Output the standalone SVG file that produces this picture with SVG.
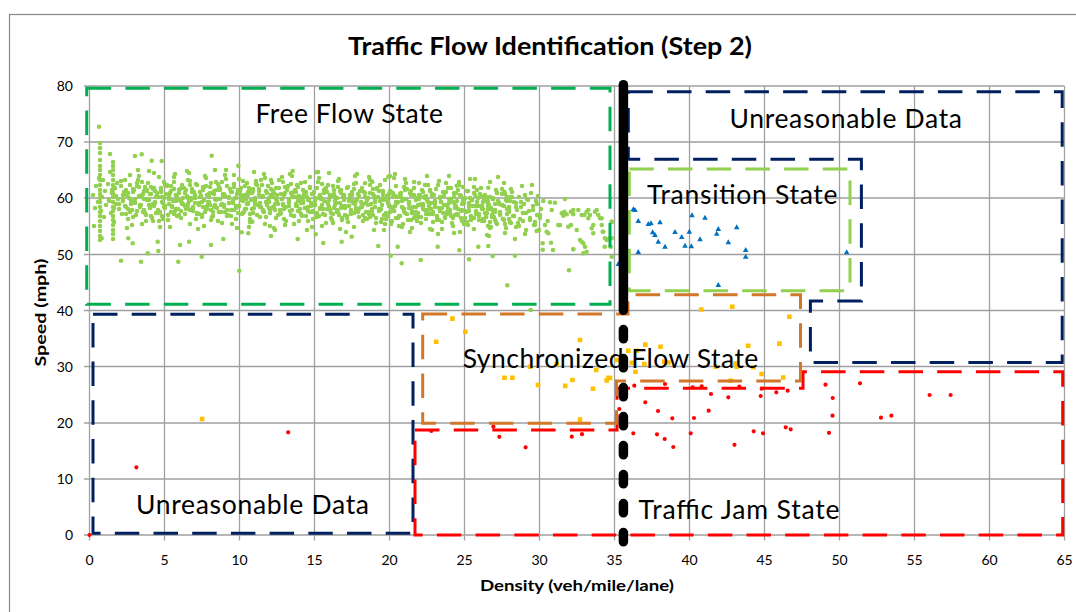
<svg xmlns="http://www.w3.org/2000/svg" xmlns:xlink="http://www.w3.org/1999/xlink" width="1076" height="612" viewBox="0 0 1076 612">
<style>
.grid{stroke:#a0a0a0;stroke-width:1.3;fill:none}
.tk{font-family:"Lato","Liberation Sans",Arial,sans-serif;font-size:14px;fill:#000}
.lbl{font-family:"Lato","Liberation Sans",Arial,sans-serif;font-size:26.5px;fill:#000}
.ax{font-family:"Lato","Liberation Sans",Arial,sans-serif;font-weight:bold;fill:#000}
.box{fill:none;stroke-width:3;stroke-dasharray:24.5 14.2}
.g{stroke:#92d050;stroke-width:4.6;stroke-linecap:round;fill:none}
.r{stroke:#ff0000;stroke-width:4.2;stroke-linecap:round;fill:none}
.y{fill:#ffc000}
.b{fill:#0070c0}
</style>
<defs>
<path id="tA" d="M1-5h0M3 8h0M4-14h0M6 2h0M7-22h0M9 11h0M10-3h0M12 17h0M13-9h0M14 5h0M16-16h0M17 0h0M19 13h0M20-7h0M22 22h0M23-12h0M24 4h0M26-1h0M27 9h0M29-19h0M30 14h0M31-5h0M33 6h0M34-10h0M36 19h0M37-2h0M38-25h0M40 10h0M41-8h0M43 3h0M44 15h0M45-14h0M47-4h0M48 7h0M50-18h0M51 12h0M52-1h0M54 21h0M55-10h0M57 5h0M58-6h0M59 16h0M2 26h0M18-28h0M35 28h0M46-30h0M25-17h0M11-20h0M39 1h0M53-13h0"/>
<path id="tB" d="M0 4h0M2-11h0M3 15h0M5-3h0M6 9h0M8-18h0M9 1h0M11 12h0M12-7h0M14 20h0M15-14h0M17 6h0M18-2h0M20 16h0M21-9h0M23-23h0M24 10h0M25-4h0M27 3h0M28-12h0M30 18h0M31-6h0M32 8h0M34-17h0M35 0h0M37 13h0M38-9h0M40 24h0M41-3h0M42 6h0M44-20h0M45 11h0M47-1h0M48-10h0M49 17h0M51 4h0M52-15h0M54 9h0M55-5h0M56 14h0M58-8h0M59 1h0M7-26h0M22 27h0M33-29h0M43-24h0M50 25h0M13-1h0M29 21h0M57-20h0"/>
<path id="tC" d="M2 3h0M5-8h0M7 10h0M9-2h0M12 6h0M14-12h0M16 1h0M19 9h0M21-5h0M23 14h0M26-9h0M28 4h0M30-15h0M33 7h0M35-3h0M37 12h0M40-7h0M42 2h0M44-11h0M47 8h0M49-1h0M51 15h0M54-6h0M56 5h0M58-13h0"/>
</defs>
<rect x="0" y="0" width="1076" height="612" fill="#fff"/>
<rect x="9.5" y="14.5" width="1200" height="700" fill="none" stroke="#888" stroke-width="1.2"/>
<text class="ax" x="550" y="55" font-size="25" text-anchor="middle" textLength="404" lengthAdjust="spacingAndGlyphs">Traffic Flow Identification (Step 2)</text>
<g id="grid" class="grid">
<path d="M89.5 86V540.5M164.5 86V540.5M239.5 86V540.5M314.5 86V540.5M389.5 86V540.5M464.5 86V540.5M539.5 86V540.5M614.5 86V540.5M689.5 86V540.5M764.5 86V540.5M839.5 86V540.5M914.5 86V540.5M989.5 86V540.5M1064.5 86V540.5"/>
<path d="M84 86H1064.5M84 142H1064.5M84 198H1064.5M84 254.5H1064.5M84 310.5H1064.5M84 366.5H1064.5M84 423H1064.5M84 479H1064.5M84 535H1064.5"/>
</g>
<g id="ytick" class="tk" text-anchor="end">
<text x="73" y="91">80</text><text x="73" y="147">70</text><text x="73" y="203">60</text><text x="73" y="259.5">50</text><text x="73" y="315.5">40</text><text x="73" y="371.5">30</text><text x="73" y="428">20</text><text x="73" y="484">10</text><text x="73" y="540">0</text>
</g>
<g id="xtick" class="tk" text-anchor="middle">
<text x="89.5" y="565">0</text><text x="164.5" y="565">5</text><text x="239.5" y="565">10</text><text x="314.5" y="565">15</text><text x="389.5" y="565">20</text><text x="464.5" y="565">25</text><text x="539.5" y="565">30</text><text x="614.5" y="565">35</text><text x="689.5" y="565">40</text><text x="764.5" y="565">45</text><text x="839.5" y="565">50</text><text x="914.5" y="565">55</text><text x="989.5" y="565">60</text><text x="1064.5" y="565">65</text>
</g>
<text class="ax" font-size="16" text-anchor="middle" textLength="108" lengthAdjust="spacingAndGlyphs" transform="translate(46,312.5) rotate(-90)">Speed (mph)</text>
<text class="ax" font-size="16" x="577" y="591" text-anchor="middle" textLength="194" lengthAdjust="spacingAndGlyphs">Density (veh/mile/lane)</text>
<g id="free-flow-points" class="g">
<use xlink:href="#tA" transform="translate(92,200)"/>
<use xlink:href="#tB" transform="translate(182,200) scale(-1,1)"/>
<use xlink:href="#tA" transform="translate(152,199) scale(1,-1)"/>
<use xlink:href="#tB" transform="translate(182,199)"/>
<use xlink:href="#tA" transform="translate(272,200) scale(-1,1)"/>
<use xlink:href="#tB" transform="translate(242,201) scale(1,-1)"/>
<use xlink:href="#tA" transform="translate(272,202)"/>
<use xlink:href="#tB" transform="translate(362,202) scale(-1,1)"/>
<use xlink:href="#tA" transform="translate(392,202) scale(-1,-1)"/>
<use xlink:href="#tB" transform="translate(362,203)"/>
<use xlink:href="#tA" transform="translate(392,204) scale(1,-1)"/>
<use xlink:href="#tB" transform="translate(482,205) scale(-1,1)"/>
<use xlink:href="#tA" transform="translate(452,207)"/>
<use xlink:href="#tB" transform="translate(482,210) scale(1,-1)"/>
<use xlink:href="#tC" transform="translate(107,198)"/>
<use xlink:href="#tC" transform="translate(197,200) scale(-1,1)"/>
<use xlink:href="#tC" transform="translate(167,199) scale(1,-1)"/>
<use xlink:href="#tC" transform="translate(257,201) scale(-1,-1)"/>
<use xlink:href="#tC" transform="translate(227,200)"/>
<use xlink:href="#tC" transform="translate(317,202) scale(-1,1)"/>
<use xlink:href="#tC" transform="translate(287,202) scale(1,-1)"/>
<use xlink:href="#tC" transform="translate(377,203) scale(-1,-1)"/>
<use xlink:href="#tC" transform="translate(347,203)"/>
<use xlink:href="#tC" transform="translate(437,204) scale(-1,1)"/>
<use xlink:href="#tC" transform="translate(407,205) scale(1,-1)"/>
<use xlink:href="#tC" transform="translate(497,207) scale(-1,-1)"/>
<use xlink:href="#tC" transform="translate(467,208)"/>
<use xlink:href="#tC" transform="translate(542,212) scale(-1,1)"/>
<path d="M100 143h0M100 148h0M100 153h0M100 160h0M100 166h0M100 170h0M100 175h0M100 180h0M100 185h0M100 190h0M100 194h0M100 198h0M100 202h0M100 207h0M100 212h0M100 216h0M100 221h0M100 226h0M100 231h0M100 236h0M100 240h0M113 162h0M113 166h0M113 170h0M113 175h0M113 180h0M113 185h0M113 189h0M113 193h0M113 197h0M113 202h0M113 207h0M113 211h0M113 216h0M113 220h0M113 225h0M113 230h0M113 234h0M113 239h0"/>
<path d="M99 126.7h0M121 260.7h0M141 261.7h0M147.7 253.3h0M178.3 261.7h0M201.7 256.7h0M239.3 270.7h0M110 154h0M135 156h0M141.7 154.3h0M211.7 155.7h0M151.7 160.7h0M161.7 161h0M238.3 165.7h0M128.3 238.3h0M132.7 243.3h0M157.7 241.7h0M158.3 251h0M189 241.7h0M180 245h0M211 245h0M223.3 239h0M241.7 232.3h0M248.3 233.3h0M252.3 221.7h0M101.7 238.3h0M271 236h0M297.7 239h0M315.7 234.3h0M323.3 243h0M341.7 241.7h0M351.7 236.7h0M378.3 246h0M390.7 255.7h0M401.7 263.3h0M420.7 260h0M437.7 246.7h0M397.7 246.7h0M292.7 171h0M316.7 172.3h0M388.3 176.7h0M365 183.3h0M372.3 181.7h0M456.7 185.7h0M488.3 187.7h0M504.3 191.7h0M469 259.3h0M492.7 256h0M507.3 285.3h0M515 255.7h0M569 270.3h0M459.3 250.3h0M478.3 246.7h0M488.3 246h0M542.7 249.7h0M553 250h0M573.3 249.3h0M583.3 253.3h0M611.7 256.7h0M565 199h0M530.7 310h0M601.7 218.3h0M602.7 231.7h0M606.7 239.3h0M604.7 246.7h0M611.7 221.7h0M611.7 238.3h0"/>
<path d="M543.3 201h0M550 202.3h0M555 202.7h0M551.7 210h0M547.7 221h0M545 225h0M546.7 231.7h0M548.3 233.3h0M536.7 231h0M535 225h0M542.7 243.3h0M551 242.7h0M561.7 213.3h0M564.3 211.7h0M563.3 215.7h0M566.7 214.3h0M571 211.7h0M573.3 210h0M573.3 214.3h0M571 225h0M568.3 226.7h0M560 225h0M558.3 225h0M576.7 230h0M578.3 210h0M581.7 215h0M584.3 215h0M586.7 211.7h0M588.3 210h0M590 215h0M593.3 225h0M591.7 228.3h0M593.3 233.3h0M588.3 218.3h0M595 211.7h0M596.7 210h0M598.3 215h0M600 218.3h0M601.7 225h0M603.3 231.7h0M580 240h0M581.7 241.7h0M583.3 243.3h0M585 246.7h0M586.7 251.7h0M573.3 249.3h0M605 238.3h0M606.7 240h0M611.7 221.7h0M610 237.7h0M610.7 246.7h0"/>
</g>
<g id="transition-points" class="b">
<path d="M633.3 206.3l2.8 5h-5.6zM635 207l2.8 5h-5.6zM638.3 218l2.8 5h-5.6zM648.3 221l2.8 5h-5.6zM651 220.3l2.8 5h-5.6zM660 219.3l2.8 5h-5.6zM652.7 229.3l2.8 5h-5.6zM655 232l2.8 5h-5.6zM658.3 238.7l2.8 5h-5.6zM665 243.7l2.8 5h-5.6zM675 229l2.8 5h-5.6zM681.7 234l2.8 5h-5.6zM685 242.7l2.8 5h-5.6zM689.3 228.7l2.8 5h-5.6zM691.3 243.3l2.8 5h-5.6zM692 212.3l2.8 5h-5.6zM700 236.3l2.8 5h-5.6zM705 214.7l2.8 5h-5.6zM716.7 230.7l2.8 5h-5.6zM718.3 226l2.8 5h-5.6zM728.3 239.3l2.8 5h-5.6zM736.7 224.3l2.8 5h-5.6zM745.7 247l2.8 5h-5.6zM745.7 253.7l2.8 5h-5.6zM638.3 249l2.8 5h-5.6zM718.3 282l2.8 5h-5.6zM846.7 249.3l2.8 5h-5.6zM618.3 261l2.8 5h-5.6z"/>
</g>
<g id="synchronized-points" class="y">
<path d="M199.8 416.7h4.6v4.6h-4.6zM433.9 339.4h4.6v4.6h-4.6zM450.1 316.3h4.6v4.6h-4.6zM463 329.5h4.6v4.6h-4.6zM502.1 375.4h4.6v4.6h-4.6zM510.1 375.4h4.6v4.6h-4.6zM527.9 364.4h4.6v4.6h-4.6zM535.7 382.7h4.6v4.6h-4.6zM554.4 361.7h4.6v4.6h-4.6zM562.9 383.6h4.6v4.6h-4.6zM570.1 377.7h4.6v4.6h-4.6zM577.7 337.7h4.6v4.6h-4.6zM577.7 417.3h4.6v4.6h-4.6zM590.7 386.5h4.6v4.6h-4.6zM593.9 367.7h4.6v4.6h-4.6zM604.3 378.2h4.6v4.6h-4.6zM606.1 375.4h4.6v4.6h-4.6zM614.4 357.7h4.6v4.6h-4.6zM626 348.4h4.6v4.6h-4.6zM634.3 348.4h4.6v4.6h-4.6zM643 342.3h4.6v4.6h-4.6zM658.2 344.4h4.6v4.6h-4.6zM629.4 360.4h4.6v4.6h-4.6zM642 361.7h4.6v4.6h-4.6zM633.2 369.4h4.6v4.6h-4.6zM662 359.4h4.6v4.6h-4.6zM666.1 360.2h4.6v4.6h-4.6zM698.9 307.2h4.6v4.6h-4.6zM730 304.4h4.6v4.6h-4.6zM787 314.4h4.6v4.6h-4.6zM745.9 343.4h4.6v4.6h-4.6zM777.1 341.3h4.6v4.6h-4.6zM713.5 364.4h4.6v4.6h-4.6zM733.1 361.2h4.6v4.6h-4.6zM734.4 364.4h4.6v4.6h-4.6zM751.2 365h4.6v4.6h-4.6zM759.3 371.7h4.6v4.6h-4.6zM780.9 375.2h4.6v4.6h-4.6zM728.4 378.5h4.6v4.6h-4.6zM607.7 375.7h4.6v4.6h-4.6z"/>
</g>
<g id="jam-points" class="r">
<path d="M89.5 535h0M136.4 467.3h0M288.2 432.3h0M431.3 431h0M493.4 426.7h0M499.3 436.8h0M525.6 447.3h0M571.8 436.7h0M582 434.2h0M634.3 385.7h0M665 384h0M692.7 387.3h0M701.7 386.3h0M711 394h0M728.3 397.3h0M739.3 386.7h0M761.7 388.7h0M760.7 396h0M776.3 392.3h0M787.7 390.7h0M825.5 384.7h0M860 383.3h0M832.7 398h0M832.5 415.7h0M645.3 402.3h0M658 411h0M672.3 418.3h0M694 418h0M708.7 410.7h0M633.3 433.3h0M657 434.3h0M664.7 439h0M673.3 447h0M690.7 433.3h0M734.5 444.8h0M753.7 431.3h0M763 433.3h0M785.7 427.3h0M790.7 429.3h0M829 432.8h0M619.3 409h0M929.6 395h0M950.6 395h0M881 417.7h0M891.4 415.7h0"/>
</g>
<g id="free-flow-state">
<rect class="box" x="86.7" y="88.3" width="523.3" height="216" stroke="#00b050"/>
<text class="lbl" x="255.5" y="123.3" textLength="187.5">Free Flow State</text>
</g>
<g id="unreasonable-data-top">
<path class="box" d="M628.3 91.7H1062.2V362.5H810.4V301H861.4V159.3H628.3Z" stroke="#002060"/>
<text class="lbl" x="729.5" y="127.7" textLength="232.5">Unreasonable Data</text>
</g>
<g id="transition-state">
<rect class="box" x="629.3" y="169" width="220.7" height="121.7" stroke="#92d050"/>
<text class="lbl" x="647" y="204.2" textLength="190.5">Transition State</text>
</g>
<g id="unreasonable-data-bottom">
<rect class="box" x="93" y="314.3" width="320" height="219" stroke="#002060"/>
<text class="lbl" x="136" y="514.3" textLength="233">Unreasonable Data</text>
</g>
<g id="traffic-jam-state">
<path class="box" d="M415 430H617V388.3H803V371.7H1062.7V535H415Z" stroke="#ff0000"/>
<text class="lbl" x="638.6" y="519" textLength="201">Traffic Jam State</text>
</g>
<g id="synchronized-flow-state">
<path class="box" d="M422.7 314H628V294.7H800.5V381H616.5V423.3H422.7Z" stroke="#d2772a"/>
<text class="lbl" x="462.7" y="368.3" textLength="295.6">Synchronized Flow State</text>
</g>
<g id="connectors">
<path d="M623.4 84.7V310.3" stroke="#000" stroke-width="9.5" stroke-linecap="round" fill="none"/>
<path d="M623.4 329.5V541.8" stroke="#000" stroke-width="9.5" stroke-linecap="round" stroke-dasharray="9.3 19.7" fill="none"/>
</g>
</svg>
